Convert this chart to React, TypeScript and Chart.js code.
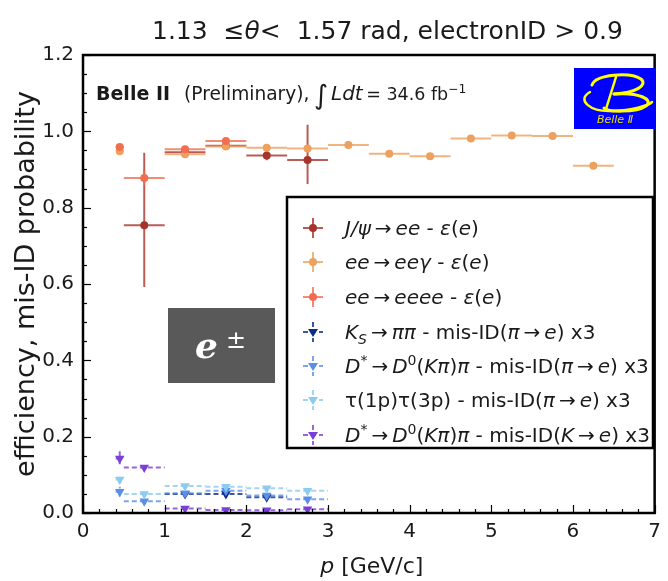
import React, { useEffect, useRef } from 'react';
import { Chart, registerables } from 'chart.js';

Chart.register(...registerables);

const FONT = "'DejaVu Sans', sans-serif";

// momentum bin edges [GeV/c]
const pBinEdges = [0.4, 0.5, 1.0, 1.5, 2.0, 2.5, 3.0, 3.5, 4.0, 4.5, 5.0, 5.5, 6.0, 6.5];

// J/psi -> ee efficiency
const jpsiP = [0.75, 1.25, 1.75, 2.25, 2.75];
const jpsiEff = [0.754, 0.945, 0.962, 0.937, 0.925];
const jpsiErrLo = [0.162, 0.01, 0.008, 0.013, 0.063];
const jpsiErrHi = [0.19, 0.01, 0.008, 0.013, 0.092];

// ee -> ee gamma efficiency
const eegP = [0.45, 1.25, 1.75, 2.25, 2.75, 3.25, 3.75, 4.25, 4.75, 5.25, 5.75, 6.25];
const eegEff = [0.948, 0.94, 0.96, 0.957, 0.955, 0.964, 0.941, 0.935, 0.981, 0.989, 0.988, 0.91];
const eegErr = [0.004, 0.003, 0.003, 0.003, 0.003, 0.003, 0.003, 0.003, 0.003, 0.003, 0.003, 0.003];

// ee -> eeee efficiency
const eeeeP = [0.45, 0.75, 1.25, 1.75];
const eeeeEff = [0.959, 0.878, 0.953, 0.975];
const eeeeErr = [0.006, 0.02, 0.006, 0.005];

// K_S -> pi pi, pi -> e mis-ID (x3)
const ksP = [1.25, 1.75, 2.25];
const ksMisId = [0.05, 0.05, 0.041];
const ksErr = [0.004, 0.004, 0.004];

// D* -> D0(K pi) pi, pi -> e mis-ID (x3)
const dstPiP = [0.45, 0.75, 1.25, 1.75, 2.25, 2.75];
const dstPiMisId = [0.056, 0.031, 0.052, 0.058, 0.046, 0.036];
const dstPiErr = [0.013, 0.005, 0.004, 0.004, 0.005, 0.006];

// tau(1p) tau(3p), pi -> e mis-ID (x3)
const tauP = [0.45, 0.75, 1.25, 1.75, 2.25, 2.75];
const tauMisId = [0.088, 0.05, 0.071, 0.069, 0.065, 0.058];
const tauErr = [0.011, 0.004, 0.003, 0.003, 0.003, 0.003];

// D* -> D0(K pi) pi, K -> e mis-ID (x3)
const dstKP = [0.45, 0.75, 1.25, 1.75, 2.25, 2.75];
const dstKMisId = [0.143, 0.119, 0.012, 0.008, 0.007, 0.01];
const dstKErrLo = [0.015, 0.004, 0.003, 0.002, 0.002, 0.003];
const dstKErrHi = [0.022, 0.004, 0.003, 0.002, 0.002, 0.003];

const xTicks = [0, 1, 2, 3, 4, 5, 6, 7];
const yTicks = [0, 0.2, 0.4, 0.6, 0.8, 1.0, 1.2];

type Seg = { t: string; i?: boolean; b?: boolean; s?: 'sub' | 'sup' };

interface Series {
  p: number[];
  v: number[];
  lo: number[];
  hi: number[];
  color: string;
  marker: 'circle' | 'tri';
  dashed: boolean;
  label: Seg[];
}

const arrow: Seg = { t: '\u2009\u2192\u2009' };

const series: Series[] = [
  {
    p: jpsiP, v: jpsiEff, lo: jpsiErrLo, hi: jpsiErrHi, color: '#a5342c', marker: 'circle', dashed: false,
    label: [{ t: 'J/\u03c8', i: true }, arrow, { t: 'ee', i: true }, { t: ' - ' }, { t: '\u03b5', i: true }, { t: '(' }, { t: 'e', i: true }, { t: ')' }],
  },
  {
    p: eegP, v: eegEff, lo: eegErr, hi: eegErr, color: '#eca15f', marker: 'circle', dashed: false,
    label: [{ t: 'ee', i: true }, arrow, { t: 'ee\u03b3', i: true }, { t: ' - ' }, { t: '\u03b5', i: true }, { t: '(' }, { t: 'e', i: true }, { t: ')' }],
  },
  {
    p: eeeeP, v: eeeeEff, lo: eeeeErr, hi: eeeeErr, color: '#f26e50', marker: 'circle', dashed: false,
    label: [{ t: 'ee', i: true }, arrow, { t: 'eeee', i: true }, { t: ' - ' }, { t: '\u03b5', i: true }, { t: '(' }, { t: 'e', i: true }, { t: ')' }],
  },
  {
    p: ksP, v: ksMisId, lo: ksErr, hi: ksErr, color: '#0c2a88', marker: 'tri', dashed: true,
    label: [{ t: 'K', i: true }, { t: 'S', i: true, s: 'sub' }, arrow, { t: '\u03c0\u03c0', i: true }, { t: ' - mis-ID(' }, { t: '\u03c0', i: true }, arrow, { t: 'e', i: true }, { t: ') x3' }],
  },
  {
    p: dstPiP, v: dstPiMisId, lo: dstPiErr, hi: dstPiErr, color: '#5b8fe6', marker: 'tri', dashed: true,
    label: [{ t: 'D', i: true }, { t: '*', s: 'sup' }, arrow, { t: 'D', i: true }, { t: '0', s: 'sup' }, { t: '(' }, { t: 'K\u03c0', i: true }, { t: ')' }, { t: '\u03c0', i: true }, { t: ' - mis-ID(' }, { t: '\u03c0', i: true }, arrow, { t: 'e', i: true }, { t: ') x3' }],
  },
  {
    p: tauP, v: tauMisId, lo: tauErr, hi: tauErr, color: '#8ccaf0', marker: 'tri', dashed: true,
    label: [{ t: '\u03c4(1p)\u03c4(3p) - mis-ID(' }, { t: '\u03c0', i: true }, arrow, { t: 'e', i: true }, { t: ') x3' }],
  },
  {
    p: dstKP, v: dstKMisId, lo: dstKErrLo, hi: dstKErrHi, color: '#7a40d6', marker: 'tri', dashed: true,
    label: [{ t: 'D', i: true }, { t: '*', s: 'sup' }, arrow, { t: 'D', i: true }, { t: '0', s: 'sup' }, { t: '(' }, { t: 'K\u03c0', i: true }, { t: ')' }, { t: '\u03c0', i: true }, { t: ' - mis-ID(' }, { t: 'K', i: true }, arrow, { t: 'e', i: true }, { t: ') x3' }],
  },
];

function binHalfWidth(p: number): number {
  for (let k = 0; k < pBinEdges.length - 1; k++) {
    if (p >= pBinEdges[k] && p < pBinEdges[k + 1]) return (pBinEdges[k + 1] - pBinEdges[k]) / 2;
  }
  return 0.25;
}

function rgba(hex: string, a: number) {
  const n = parseInt(hex.slice(1), 16);
  return `rgba(${(n >> 16) & 255},${(n >> 8) & 255},${n & 255},${a})`;
}

function segFont(s: Seg, size: number) {
  const fs = s.s ? size * 0.7 : size;
  return `${s.i ? 'italic ' : ''}${s.b ? 'bold ' : ''}${fs}px ${FONT}`;
}

function richWidth(ctx: CanvasRenderingContext2D, segs: Seg[], size: number) {
  let w = 0;
  for (const s of segs) {
    ctx.font = segFont(s, size);
    w += ctx.measureText(s.t).width;
  }
  return w;
}

function drawRich(ctx: CanvasRenderingContext2D, segs: Seg[], x: number, y: number, size: number) {
  let cx = x;
  for (const s of segs) {
    ctx.font = segFont(s, size);
    const dy = s.s === 'sub' ? size * 0.25 : s.s === 'sup' ? -size * 0.4 : 0;
    ctx.fillText(s.t, cx, y + dy);
    cx += ctx.measureText(s.t).width;
  }
  return cx - x;
}

function drawMarker(ctx: CanvasRenderingContext2D, kind: 'circle' | 'tri', x: number, y: number, color: string) {
  ctx.fillStyle = color;
  ctx.beginPath();
  if (kind === 'circle') {
    ctx.arc(x, y, 4, 0, Math.PI * 2);
  } else {
    const r = 5;
    ctx.moveTo(x - r, y - r * 0.6);
    ctx.lineTo(x + r, y - r * 0.6);
    ctx.lineTo(x, y + r);
    ctx.closePath();
  }
  ctx.fill();
}

function drawLogo(ctx: CanvasRenderingContext2D) {
  const x0 = 574, y0 = 68, w = 81, h = 61;
  ctx.save();
  ctx.fillStyle = '#0000ff';
  ctx.fillRect(x0, y0, w, h);
  ctx.strokeStyle = '#ffff00';
  ctx.lineCap = 'round';
  ctx.lineJoin = 'round';
  // upper bowl of the script B
  ctx.lineWidth = 3;
  ctx.beginPath();
  ctx.moveTo(592, 85);
  ctx.bezierCurveTo(596, 74, 630, 72, 641, 79);
  ctx.bezierCurveTo(648, 85, 636, 93, 614, 94);
  ctx.stroke();
  // lower bowl
  ctx.beginPath();
  ctx.moveTo(614, 94);
  ctx.bezierCurveTo(640, 92, 654, 100, 646, 106);
  ctx.bezierCurveTo(636, 113, 606, 112, 604, 108);
  ctx.stroke();
  // sweeping base stroke
  ctx.lineWidth = 2.5;
  ctx.beginPath();
  ctx.moveTo(590, 92);
  ctx.bezierCurveTo(576, 100, 590, 112, 612, 111);
  ctx.bezierCurveTo(632, 110, 648, 106, 652, 102);
  ctx.stroke();
  // stem
  ctx.beginPath();
  ctx.moveTo(616, 77);
  ctx.lineTo(606, 109);
  ctx.stroke();
  ctx.fillStyle = '#e8e000';
  ctx.font = `italic 11px ${FONT}`;
  ctx.textAlign = 'center';
  ctx.textBaseline = 'alphabetic';
  ctx.fillText('Belle \u2161', 615, 123);
  ctx.restore();
}

const decor = {
  id: 'decor',
  beforeDatasetsDraw(chart: any) {
    const ctx: CanvasRenderingContext2D = chart.ctx;
    const xs = chart.scales.x, ys = chart.scales.y;
    const a = chart.chartArea;
    ctx.save();
    ctx.beginPath();
    ctx.rect(a.left, a.top, a.right - a.left, a.bottom - a.top);
    ctx.clip();
    series.forEach((s) => {
      ctx.strokeStyle = rgba(s.color, 0.8);
      ctx.lineWidth = 2;
      ctx.setLineDash(s.dashed ? [5, 3] : []);
      s.p.forEach((p, k) => {
        const hw = binHalfWidth(p);
        const y = ys.getPixelForValue(s.v[k]);
        ctx.beginPath();
        ctx.moveTo(xs.getPixelForValue(p - hw), y);
        ctx.lineTo(xs.getPixelForValue(p + hw), y);
        ctx.stroke();
        const x = xs.getPixelForValue(p);
        ctx.beginPath();
        ctx.moveTo(x, ys.getPixelForValue(s.v[k] - s.lo[k]));
        ctx.lineTo(x, ys.getPixelForValue(s.v[k] + s.hi[k]));
        ctx.stroke();
      });
    });
    ctx.restore();
  },
  afterDraw(chart: any) {
    const ctx: CanvasRenderingContext2D = chart.ctx;
    const xs = chart.scales.x, ys = chart.scales.y;
    const a = chart.chartArea;
    ctx.save();
    ctx.fillStyle = '#1a1a1a';
    ctx.strokeStyle = '#000';

    // inward ticks
    ctx.lineWidth = 1.2;
    for (let v = 0; v <= 7.0001; v += 0.2) {
      const major = Math.abs(v - Math.round(v)) < 1e-6;
      const x = Math.round(xs.getPixelForValue(v)) + 0.5;
      ctx.beginPath();
      ctx.moveTo(x, a.bottom);
      ctx.lineTo(x, a.bottom - (major ? 8 : 4));
      ctx.stroke();
    }
    for (let v = 0; v <= 1.2001; v += 0.05) {
      const major = Math.abs(v / 0.2 - Math.round(v / 0.2)) < 1e-6;
      const y = Math.round(ys.getPixelForValue(v)) + 0.5;
      ctx.beginPath();
      ctx.moveTo(a.left, y);
      ctx.lineTo(a.left + (major ? 8 : 4), y);
      ctx.stroke();
    }

    // frame
    ctx.lineWidth = 2.5;
    ctx.strokeRect(a.left, a.top, a.right - a.left, a.bottom - a.top);

    // title
    ctx.textAlign = 'left';
    ctx.textBaseline = 'alphabetic';
    drawRich(ctx, [{ t: '1.13  \u2264' }, { t: '\u03b8', i: true }, { t: '<  1.57 rad, electronID > 0.9' }], 152, 39, 25);

    // axis titles
    const xt: Seg[] = [{ t: 'p', i: true }, { t: ' [GeV/c]' }];
    const xw = richWidth(ctx, xt, 22);
    drawRich(ctx, xt, (a.left + a.right) / 2 - xw / 2 + 3, 573, 22);

    ctx.save();
    ctx.translate(34, (a.top + a.bottom) / 2);
    ctx.rotate(-Math.PI / 2);
    ctx.font = `27px ${FONT}`;
    ctx.textAlign = 'center';
    ctx.fillText('efficiency, mis-ID probability', 0, 0);
    ctx.restore();

    // experiment label
    ctx.textAlign = 'left';
    drawRich(ctx, [{ t: 'Belle II', b: true }], 96, 100, 19);
    drawRich(ctx, [{ t: '(Preliminary),' }], 184, 100, 18.6);
    ctx.font = `italic 27px ${FONT}`;
    ctx.fillText('\u222b', 314, 104);
    let cx = 331;
    cx += drawRich(ctx, [{ t: 'Ldt', i: true }], cx, 100, 20);
    drawRich(ctx, [{ t: '\u2009= 34.6 fb' }, { t: '\u22121', s: 'sup' }], cx, 100, 17.5);

    drawLogo(ctx);

    // particle tag
    ctx.fillStyle = '#595959';
    ctx.fillRect(168, 308, 107, 75);
    ctx.fillStyle = '#ffffff';
    ctx.font = `bold italic 36px 'DejaVu Serif', serif`;
    ctx.fillText('e', 195, 358);
    ctx.font = `24px ${FONT}`;
    ctx.fillText('\u00b1', 226, 348);

    // legend
    const lx = 287, ly = 197, lw = 366, lh = 251;
    ctx.fillStyle = '#ffffff';
    ctx.fillRect(lx, ly, lw, lh);
    ctx.lineWidth = 2.5;
    ctx.strokeStyle = '#000';
    ctx.strokeRect(lx, ly, lw, lh);
    const rowY = [228, 262, 297, 332, 366, 400, 435];
    series.forEach((s, k) => {
      const cy = rowY[k];
      const mx = 313;
      ctx.strokeStyle = rgba(s.color, 0.8);
      ctx.lineWidth = 2;
      ctx.setLineDash(s.dashed ? [5, 3] : []);
      ctx.beginPath();
      ctx.moveTo(mx - 10, cy);
      ctx.lineTo(mx + 10, cy);
      ctx.moveTo(mx, cy - 10);
      ctx.lineTo(mx, cy + 10);
      ctx.stroke();
      ctx.setLineDash([]);
      drawMarker(ctx, s.marker, mx, cy, s.color);
      ctx.fillStyle = '#1a1a1a';
      drawRich(ctx, s.label, 345, cy + 7, 20);
    });
    ctx.restore();
  },
};

export default function App() {
  const ref = useRef<HTMLCanvasElement>(null);
  useEffect(() => {
    document.body.style.margin = '0';
    const n = series.length;
    const datasets = series.map((s, i) => ({
      data: s.p.map((p, k) => ({ x: p, y: s.v[k] })),
      backgroundColor: s.color,
      borderColor: s.color,
      pointStyle: s.marker === 'circle' ? 'circle' : 'triangle',
      rotation: s.marker === 'circle' ? 0 : 180,
      pointRadius: s.marker === 'circle' ? 4 : 5.5,
      borderWidth: 0,
      order: n - i,
    }));
    const chart = new Chart(ref.current!, {
      type: 'scatter',
      data: { datasets: datasets as any },
      options: {
        animation: false,
        responsive: false,
        devicePixelRatio: 1,
        layout: { padding: { top: 55, right: 7, left: 0, bottom: 0 } },
        plugins: { legend: { display: false }, tooltip: { enabled: false } },
        scales: {
          x: {
            type: 'linear',
            min: 0,
            max: 7,
            afterFit: (s: any) => { s.height = 68; },
            afterBuildTicks: (s: any) => { s.ticks = xTicks.map((v) => ({ value: v })); },
            ticks: { font: { size: 20, family: FONT }, color: '#1a1a1a', padding: 7, maxRotation: 0, autoSkip: false },
            grid: { display: false, drawTicks: false },
            border: { display: false },
          },
          y: {
            type: 'linear',
            min: 0,
            max: 1.2,
            afterFit: (s: any) => { s.width = 83; },
            afterBuildTicks: (s: any) => { s.ticks = yTicks.map((v) => ({ value: v })); },
            ticks: {
              font: { size: 20, family: FONT },
              color: '#1a1a1a',
              padding: 9,
              autoSkip: false,
              callback: (v: any) => Number(v).toFixed(1),
            },
            grid: { display: false, drawTicks: false },
            border: { display: false },
          },
        },
      },
      plugins: [decor],
    });
    return () => chart.destroy();
  }, []);
  return (
    <div style={{ width: 668, height: 581, background: '#fff' }}>
      <canvas ref={ref} width={668} height={581} style={{ display: 'block' }} />
    </div>
  );
}
